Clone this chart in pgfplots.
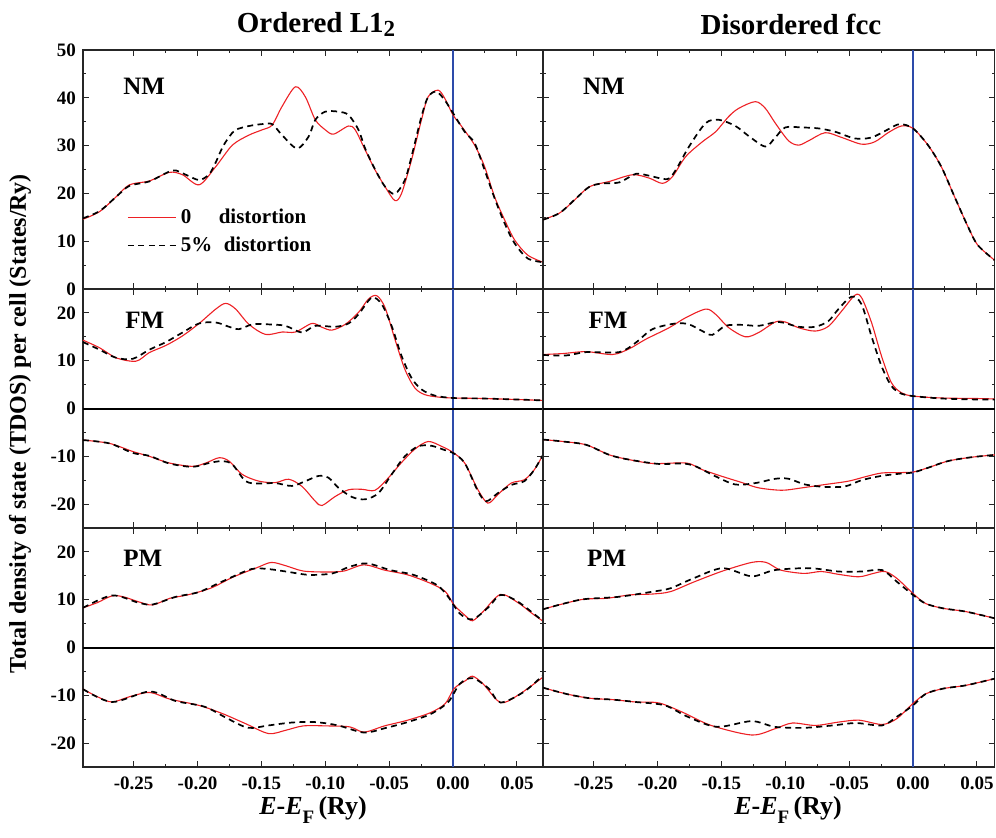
\documentclass[border=0pt]{standalone}
\usepackage{fontspec}
\setmainfont{Liberation Serif}
\usepackage{pgfplots}
\pgfplotsset{compat=1.18}
\definecolor{cred}{RGB}{237,32,36}
\definecolor{cblue}{RGB}{45,75,170}
\tikzset{plabel/.style={anchor=west, inner sep=0pt, font=\bfseries\fontsize{12.5}{12.5}\selectfont}}
\pgfplotsset{
 panel/.style={scale only axis, anchor=north west, height=119.5pt, xmin=-0.2896,
   tick align=inside, xtick={-0.25,-0.2,-0.15,-0.1,-0.05,0,0.05},
   minor x tick num=1, minor y tick num=1,
   major tick length=3pt, minor tick length=1.6pt,
   axis line style={line width=0.6pt, black!85},
   every tick/.append style={line width=0.5pt, black!85},
   tick label style={font=\bfseries\fontsize{9.5}{9.5}\selectfont},
   /pgf/number format/assume math mode=true,
   xticklabel style={yshift=-1.5pt, /pgf/number format/.cd, fixed, fixed zerofill, precision=2},
   yticklabel style={/pgf/number format/.cd, fixed, precision=0},
 },
 lcol/.style={width=230pt, xmax=0.0704},
 rcol/.style={width=225.9pt, xmax=0.0640, yticklabels={}},
 notbottom/.style={xticklabels={}},
 toprow/.style={ymin=0, ymax=50, ytick={0,10,20,30,40,50}},
 midrow/.style={ymin=-25, ymax=25, ytick={-20,-10,0,10,20}},
 redl/.style={cred, line width=0.55pt, smooth, no marks},
 blkl/.style={black, line width=0.85pt, dash pattern=on 3pt off 2.2pt, smooth, no marks},
 zerol/.style={black, line width=1pt},
}
\begin{document}
\begin{tikzpicture}
% ---------------- top left NM
\begin{axis}[panel, lcol, toprow, notbottom, at={(0pt,0pt)},
  legend style={at={(0.095,0.24)}, anchor=west, draw=none, fill=none, inner sep=0pt,
    font=\bfseries\fontsize{10.5}{13}\selectfont, row sep=1pt, cells={anchor=west}},
  legend image code/.code={\draw[#1] (0pt,0pt) -- (24pt,0pt);}]
\addplot[cblue, line width=0.7pt, forget plot] coordinates {(0,0) (0,50)};
\addplot[redl] coordinates {(-0.2896,14.6) (-0.2766,16.2) (-0.2636,19.3) (-0.2532,21.8) (-0.2377,22.6) (-0.2221,24.4) (-0.2117,23.9) (-0.1987,21.8) (-0.1857,25.6) (-0.1727,30.1) (-0.1597,32.2) (-0.1494,33.3) (-0.1416,34.3) (-0.1338,38.2) (-0.1234,42.3) (-0.1156,40.2) (-0.1078,35.4) (-0.1000,33.3) (-0.0935,32.4) (-0.0818,34.1) (-0.0766,33.3) (-0.0688,29.1) (-0.0610,24.9) (-0.0532,21.4) (-0.0455,18.5) (-0.0403,20.0) (-0.0325,27.0) (-0.0247,35.4) (-0.0195,40.2) (-0.0117,41.6) (-0.0065,39.9) (0,36.4) (0.0065,34.1) (0.0169,30.1) (0.0247,25.6) (0.0325,19.3) (0.0403,14.5) (0.0481,10.3) (0.0584,7.1) (0.0704,5.6)};
\addlegendentry{\makebox[19pt][l]{0}distortion}
\addplot[blkl] coordinates {(-0.2896,14.8) (-0.2766,16.3) (-0.2636,19.3) (-0.2532,21.6) (-0.2377,22.5) (-0.2195,24.8) (-0.2091,23.9) (-0.1987,22.8) (-0.1909,24.0) (-0.1857,26.5) (-0.1805,29.6) (-0.1753,31.8) (-0.1701,33.3) (-0.1597,34.1) (-0.1494,34.5) (-0.1416,34.5) (-0.1338,32.2) (-0.1221,29.4) (-0.1130,31.9) (-0.1078,35.4) (-0.1000,37.1) (-0.0896,37.1) (-0.0818,36.4) (-0.0740,33.3) (-0.0688,29.4) (-0.0610,25.0) (-0.0532,21.4) (-0.0455,19.9) (-0.0377,22.8) (-0.0325,27.7) (-0.0247,36.1) (-0.0195,40.2) (-0.0130,41.3) (-0.0065,39.5) (0,36.8) (0.0091,32.9) (0.0169,30.5) (0.0247,24.9) (0.0325,19.0) (0.0403,13.8) (0.0481,9.6) (0.0584,6.4) (0.0704,5.6)};
\addlegendentry{\makebox[21.5pt][l]{5\%}distortion}
\node[plabel] at (rel axis cs:0.087,0.847) {NM};
\end{axis}
% ---------------- top right NM
\begin{axis}[panel, rcol, toprow, notbottom, at={(230pt,0pt)}]
\addplot[cblue, line width=0.7pt] coordinates {(0,0) (0,50)};
\addplot[redl] coordinates {(-0.2896,14.5) (-0.2766,15.9) (-0.2662,18.3) (-0.2532,21.4) (-0.2377,22.5) (-0.2195,23.9) (-0.2065,23.2) (-0.1961,22.1) (-0.1883,23.5) (-0.1779,27.7) (-0.1649,30.8) (-0.1545,32.9) (-0.1442,36.1) (-0.1364,37.8) (-0.1234,39.2) (-0.1156,37.8) (-0.1078,34.7) (-0.0974,31.0) (-0.0896,30.1) (-0.0818,31.0) (-0.0688,32.7) (-0.0558,31.7) (-0.0403,30.3) (-0.0299,30.8) (-0.0195,32.7) (-0.0091,34.1) (0,33.6) (0.0117,30.1) (0.0221,25.6) (0.0325,19.3) (0.0429,13.1) (0.0506,9.2) (0.0640,6.0)};
\addplot[blkl] coordinates {(-0.2896,14.5) (-0.2766,15.9) (-0.2636,19.0) (-0.2532,21.4) (-0.2429,22.1) (-0.2299,22.3) (-0.2169,24.1) (-0.2065,23.7) (-0.1922,23.0) (-0.1857,24.9) (-0.1753,29.8) (-0.1623,34.7) (-0.1519,35.4) (-0.1390,34.1) (-0.1286,32.0) (-0.1156,29.8) (-0.1078,31.7) (-0.1000,33.8) (-0.0870,33.8) (-0.0740,33.6) (-0.0610,32.9) (-0.0455,31.5) (-0.0325,31.7) (-0.0195,33.4) (-0.0104,34.5) (0,33.6) (0.0117,30.1) (0.0221,25.6) (0.0325,19.3) (0.0429,13.1) (0.0506,9.2) (0.0640,6.0)};
\node[plabel] at (rel axis cs:0.088,0.847) {NM};
\end{axis}
% ---------------- middle left FM
\begin{axis}[panel, lcol, midrow, notbottom, at={(0pt,-119.5pt)}]
\addplot[cblue, line width=0.7pt] coordinates {(0,-25) (0,25)};
\addplot[zerol] coordinates {(-0.2896,0) (0.0704,0)};
\addplot[redl] coordinates {(-0.2896,14.3) (-0.2766,12.7) (-0.2636,10.6) (-0.2481,9.9) (-0.2377,11.7) (-0.2247,13.2) (-0.2117,15.2) (-0.1987,17.8) (-0.1857,20.8) (-0.1779,22.0) (-0.1701,20.8) (-0.1597,17.6) (-0.1468,15.5) (-0.1338,16.0) (-0.1234,16.0) (-0.1104,17.8) (-0.1026,17.0) (-0.0948,16.4) (-0.0844,17.6) (-0.0740,20.1) (-0.0662,22.9) (-0.0597,23.6) (-0.0532,21.1) (-0.0455,14.5) (-0.0377,8.2) (-0.0299,4.3) (-0.0221,2.9) (-0.0117,2.4) (0,2.2) (0.0221,2.1) (0.0481,1.9) (0.0704,1.7)};
\addplot[blkl] coordinates {(-0.2896,13.9) (-0.2766,12.3) (-0.2636,10.6) (-0.2506,10.4) (-0.2377,12.3) (-0.2247,13.9) (-0.2117,15.9) (-0.1987,17.8) (-0.1857,18.0) (-0.1753,17.1) (-0.1675,16.6) (-0.1571,17.6) (-0.1442,17.6) (-0.1312,17.3) (-0.1182,15.9) (-0.1078,17.3) (-0.0922,17.1) (-0.0818,17.8) (-0.0740,19.7) (-0.0636,23.2) (-0.0558,21.8) (-0.0481,17.3) (-0.0403,11.0) (-0.0325,6.4) (-0.0247,4.0) (-0.0143,2.7) (0,2.2) (0.0221,2.1) (0.0481,1.9) (0.0704,1.7)};
\addplot[redl] coordinates {(-0.2896,-6.6) (-0.2688,-7.3) (-0.2506,-9.0) (-0.2377,-10.0) (-0.2221,-11.4) (-0.2039,-12.1) (-0.1935,-11.4) (-0.1831,-10.3) (-0.1753,-11.0) (-0.1649,-13.8) (-0.1519,-15.2) (-0.1390,-15.5) (-0.1286,-14.8) (-0.1182,-16.3) (-0.1078,-19.4) (-0.1026,-20.3) (-0.0922,-18.4) (-0.0818,-17.0) (-0.0714,-16.9) (-0.0610,-17.1) (-0.0506,-14.5) (-0.0403,-11.3) (-0.0299,-8.5) (-0.0195,-6.9) (-0.0091,-7.9) (0,-9.2) (0.0091,-11.4) (0.0195,-17.0) (0.0273,-19.8) (0.0351,-18.0) (0.0455,-15.6) (0.0558,-14.9) (0.0636,-12.8) (0.0704,-9.7)};
\addplot[blkl] coordinates {(-0.2896,-6.6) (-0.2688,-7.3) (-0.2506,-9.3) (-0.2377,-9.9) (-0.2221,-11.5) (-0.2039,-12.2) (-0.1909,-11.4) (-0.1805,-11.0) (-0.1727,-11.7) (-0.1623,-15.2) (-0.1519,-15.7) (-0.1390,-15.6) (-0.1260,-16.2) (-0.1156,-15.2) (-0.1052,-14.1) (-0.0974,-14.5) (-0.0896,-16.6) (-0.0792,-18.5) (-0.0688,-19.0) (-0.0584,-17.7) (-0.0481,-13.8) (-0.0377,-10.0) (-0.0273,-7.9) (-0.0169,-7.8) (-0.0065,-8.7) (0,-9.3) (0.0091,-11.4) (0.0195,-17.3) (0.0260,-19.4) (0.0351,-17.7) (0.0455,-16.0) (0.0558,-15.2) (0.0636,-12.8) (0.0704,-9.7)};
\node[plabel] at (rel axis cs:0.091,0.870) {FM};
\end{axis}
% ---------------- middle right FM
\begin{axis}[panel, rcol, midrow, notbottom, at={(230pt,-119.5pt)}]
\addplot[cblue, line width=0.7pt] coordinates {(0,-25) (0,25)};
\addplot[zerol] coordinates {(-0.2896,0) (0.0640,0)};
\addplot[redl] coordinates {(-0.2896,11.3) (-0.2740,11.5) (-0.2558,11.9) (-0.2351,11.3) (-0.2221,12.5) (-0.2091,14.5) (-0.1909,16.9) (-0.1779,19.0) (-0.1623,20.8) (-0.1545,19.7) (-0.1442,16.9) (-0.1312,15.0) (-0.1208,15.9) (-0.1078,18.1) (-0.1000,18.1) (-0.0896,16.9) (-0.0766,16.2) (-0.0662,17.2) (-0.0558,20.4) (-0.0455,23.7) (-0.0403,23.2) (-0.0325,18.0) (-0.0247,11.0) (-0.0169,5.4) (-0.0091,3.3) (0,2.6) (0.0221,2.2) (0.0481,2.1) (0.0640,2.0)};
\addplot[blkl] coordinates {(-0.2896,11.2) (-0.2714,11.1) (-0.2558,11.8) (-0.2299,11.8) (-0.2169,13.8) (-0.2039,16.6) (-0.1857,17.8) (-0.1753,17.6) (-0.1649,16.2) (-0.1571,15.4) (-0.1468,17.3) (-0.1338,17.5) (-0.1208,17.3) (-0.1052,18.1) (-0.0896,17.1) (-0.0766,17.1) (-0.0662,18.3) (-0.0584,20.8) (-0.0481,23.4) (-0.0403,21.8) (-0.0325,15.1) (-0.0247,8.9) (-0.0169,4.7) (-0.0091,3.1) (0,2.6) (0.0221,2.1) (0.0481,1.9) (0.0640,1.9)};
\addplot[redl] coordinates {(-0.2896,-6.5) (-0.2740,-6.9) (-0.2558,-7.6) (-0.2377,-9.7) (-0.2221,-10.7) (-0.2039,-11.5) (-0.1857,-11.4) (-0.1753,-11.5) (-0.1649,-12.8) (-0.1494,-14.2) (-0.1338,-15.5) (-0.1208,-16.6) (-0.1026,-17.1) (-0.0870,-16.6) (-0.0688,-15.9) (-0.0506,-15.2) (-0.0377,-14.3) (-0.0247,-13.5) (-0.0091,-13.4) (0,-13.3) (0.0117,-12.4) (0.0273,-11.0) (0.0455,-10.2) (0.0640,-9.7)};
\addplot[blkl] coordinates {(-0.2896,-6.5) (-0.2740,-6.9) (-0.2558,-7.6) (-0.2377,-9.7) (-0.2221,-10.7) (-0.1987,-11.6) (-0.1805,-11.5) (-0.1701,-12.1) (-0.1545,-14.2) (-0.1390,-15.9) (-0.1234,-15.6) (-0.1078,-14.7) (-0.0974,-14.7) (-0.0844,-15.9) (-0.0688,-16.4) (-0.0532,-16.3) (-0.0403,-15.0) (-0.0247,-14.1) (-0.0091,-13.6) (0,-13.4) (0.0117,-12.4) (0.0273,-11.0) (0.0455,-10.2) (0.0640,-9.7)};
\node[plabel] at (rel axis cs:0.100,0.870) {FM};
\end{axis}
% ---------------- bottom left PM
\begin{axis}[panel, lcol, midrow, at={(0pt,-239pt)}]
\addplot[cblue, line width=0.7pt] coordinates {(0,-25) (0,25)};
\addplot[zerol] coordinates {(-0.2896,0) (0.0704,0)};
\addplot[redl] coordinates {(-0.2896,8.3) (-0.2783,9.4) (-0.2669,10.8) (-0.2578,10.6) (-0.2465,9.6) (-0.2352,8.9) (-0.2216,10.3) (-0.2079,11.0) (-0.1898,12.4) (-0.1716,14.8) (-0.1535,16.7) (-0.1422,17.8) (-0.1308,17.1) (-0.1172,16.0) (-0.0991,15.8) (-0.0854,16.0) (-0.0696,17.3) (-0.0537,16.2) (-0.0355,15.2) (-0.0174,13.4) (-0.0060,11.7) (0.0008,8.9) (0.0099,6.6) (0.0153,5.6) (0.0235,7.5) (0.0371,11.1) (0.0507,9.4) (0.0620,7.1) (0.0704,5.5)};
\addplot[blkl] coordinates {(-0.2896,8.3) (-0.2669,10.9) (-0.2465,9.4) (-0.2352,9.0) (-0.2170,10.6) (-0.1989,11.6) (-0.1807,13.8) (-0.1580,16.4) (-0.1444,16.4) (-0.1308,15.9) (-0.1127,15.2) (-0.0945,15.5) (-0.0809,16.9) (-0.0673,17.6) (-0.0491,16.2) (-0.0310,15.2) (-0.0128,13.1) (-0.0038,10.6) (0.0053,7.1) (0.0153,5.9) (0.0280,8.5) (0.0371,11.0) (0.0507,9.6) (0.0704,5.5)};
\addplot[redl] coordinates {(-0.2896,-8.7) (-0.2783,-10.3) (-0.2669,-11.4) (-0.2533,-10.3) (-0.2374,-9.4) (-0.2216,-10.8) (-0.1989,-12.1) (-0.1807,-13.8) (-0.1626,-15.9) (-0.1444,-18.0) (-0.1308,-17.3) (-0.1172,-16.4) (-0.0991,-16.4) (-0.0809,-16.6) (-0.0696,-17.7) (-0.0537,-16.4) (-0.0355,-15.2) (-0.0174,-13.6) (-0.0060,-11.7) (0.0008,-8.6) (0.0099,-6.9) (0.0153,-6.0) (0.0235,-7.6) (0.0371,-11.5) (0.0507,-10.0) (0.0704,-6.2)};
\addplot[blkl] coordinates {(-0.2896,-8.7) (-0.2669,-11.4) (-0.2374,-9.2) (-0.2170,-11.2) (-0.1943,-12.4) (-0.1762,-14.9) (-0.1603,-16.8) (-0.1444,-16.3) (-0.1263,-15.7) (-0.1081,-15.6) (-0.0900,-16.3) (-0.0696,-17.8) (-0.0537,-16.9) (-0.0355,-15.6) (-0.0174,-13.9) (-0.0038,-11.4) (0.0053,-7.6) (0.0153,-6.4) (0.0280,-8.6) (0.0371,-11.5) (0.0553,-9.3) (0.0704,-5.8)};
\node[plabel] at (rel axis cs:0.087,0.874) {PM};
\end{axis}
% ---------------- bottom right PM
\begin{axis}[panel, rcol, midrow, at={(230pt,-239pt)}]
\addplot[cblue, line width=0.7pt] coordinates {(0,-25) (0,25)};
\addplot[zerol] coordinates {(-0.2896,0) (0.0640,0)};
\addplot[redl] coordinates {(-0.2896,8.0) (-0.2760,9.0) (-0.2578,10.1) (-0.2397,10.3) (-0.2216,11.0) (-0.2034,11.2) (-0.1898,11.7) (-0.1716,13.7) (-0.1490,16.0) (-0.1263,17.8) (-0.1149,17.8) (-0.1036,16.2) (-0.0854,15.5) (-0.0718,15.9) (-0.0582,15.3) (-0.0424,14.8) (-0.0310,15.5) (-0.0219,15.9) (-0.0128,14.5) (0,11.3) (0.0099,9.2) (0.0235,8.2) (0.0416,7.5) (0.0640,6.1)};
\addplot[blkl] coordinates {(-0.2896,8.0) (-0.2760,9.0) (-0.2578,10.1) (-0.2306,10.6) (-0.2034,11.7) (-0.1898,12.4) (-0.1716,14.5) (-0.1490,16.6) (-0.1263,14.9) (-0.1081,16.2) (-0.0809,16.6) (-0.0582,15.9) (-0.0401,15.9) (-0.0242,16.2) (-0.0128,13.8) (0,11.0) (0.0099,9.2) (0.0235,8.2) (0.0416,7.5) (0.0640,6.1)};
\addplot[redl] coordinates {(-0.2896,-8.4) (-0.2715,-9.7) (-0.2533,-10.6) (-0.2352,-10.9) (-0.2170,-11.4) (-0.1989,-11.6) (-0.1807,-13.5) (-0.1580,-16.3) (-0.1263,-18.3) (-0.1081,-17.0) (-0.0945,-15.8) (-0.0764,-16.3) (-0.0582,-15.6) (-0.0424,-15.2) (-0.0242,-16.1) (-0.0128,-14.9) (0,-11.7) (0.0099,-9.7) (0.0235,-8.6) (0.0416,-7.9) (0.0640,-6.5)};
\addplot[blkl] coordinates {(-0.2896,-8.4) (-0.2715,-9.7) (-0.2533,-10.6) (-0.2352,-10.9) (-0.2170,-11.4) (-0.1943,-12.1) (-0.1762,-14.5) (-0.1535,-16.6) (-0.1263,-15.4) (-0.1081,-16.6) (-0.0854,-16.8) (-0.0628,-16.3) (-0.0446,-15.8) (-0.0242,-16.3) (-0.0128,-14.5) (0,-12.1) (0.0099,-9.7) (0.0235,-8.6) (0.0416,-7.9) (0.0640,-6.5)};
\node[plabel] at (rel axis cs:0.097,0.874) {PM};
\end{axis}
% ---------------- titles and labels
\node[anchor=base, font=\bfseries\fontsize{14.5}{14.5}\selectfont] at (116.5pt,9pt) {Ordered L1\raisebox{-2pt}{\fontsize{11.5}{11.5}\selectfont 2}};
\node[anchor=base, font=\bfseries\fontsize{14.5}{14.5}\selectfont] at (354pt,8pt) {Disordered fcc};
\node[rotate=90, font=\bfseries\fontsize{12}{12}\selectfont] at (-31.5pt,-187pt) {Total density of state (TDOS) per cell (States/Ry)};
\node[anchor=base, font=\bfseries\fontsize{13}{13}\selectfont] at (115pt,-382pt) {\textit{E}-\textit{E}\raisebox{-4.5pt}{\fontsize{9.5}{9.5}\selectfont F}\,(Ry)};
\node[anchor=base, font=\bfseries\fontsize{13}{13}\selectfont] at (352.5pt,-382pt) {\textit{E}-\textit{E}\raisebox{-4.5pt}{\fontsize{9.5}{9.5}\selectfont F}\,(Ry)};
\pgfresetboundingbox
\useasboundingbox (-41.5pt,25pt) rectangle (456.5pt,-393.5pt);
\end{tikzpicture}
\end{document}
